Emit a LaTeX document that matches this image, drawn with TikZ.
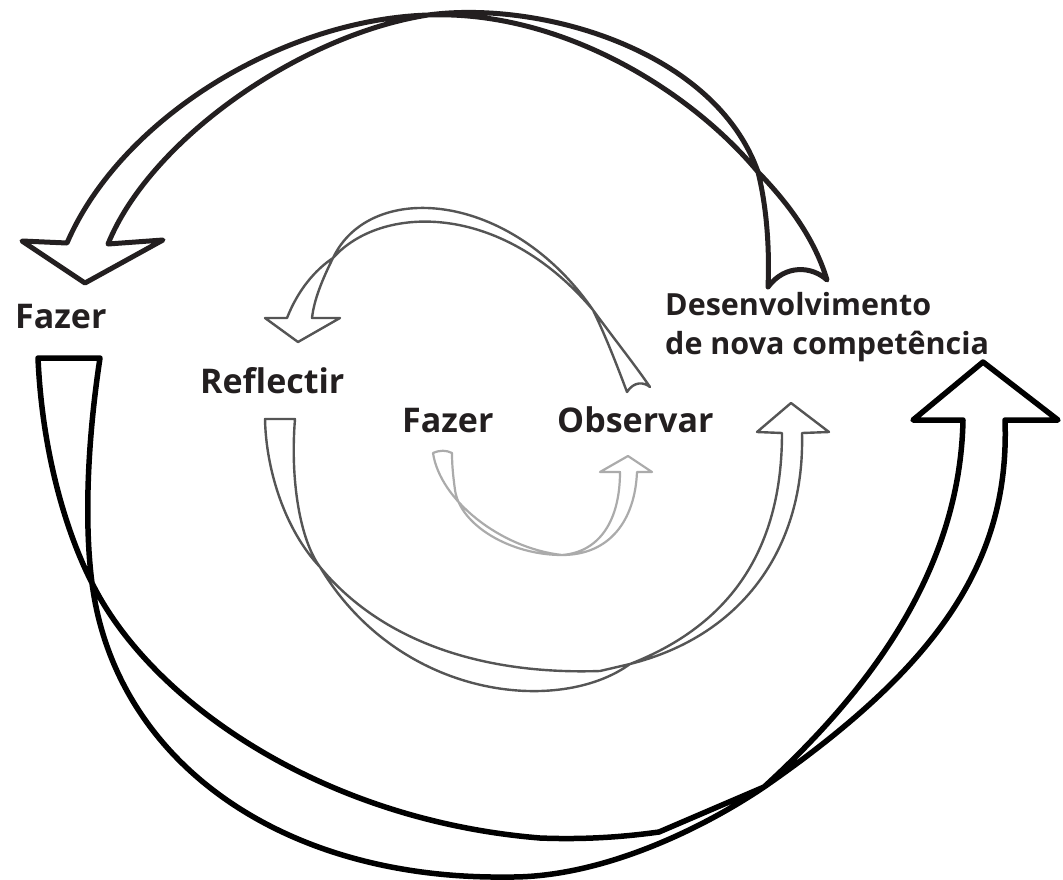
\documentclass[tikz,border=0pt]{standalone}
\usepackage{fontspec}
\setmainfont{Open Sans}
\definecolor{ink}{HTML}{231F20}
\definecolor{midgray}{HTML}{555555}
\definecolor{palegray}{HTML}{ABABAB}
\begin{document}
\begin{tikzpicture}[x=1pt,y=-1pt,
  ribbon/.style={line join=round, line cap=round},
  outerband/.style={ribbon, draw=black, line width=5.5pt},
  topband/.style={ribbon, draw=ink, line width=5pt},
  midband/.style={ribbon, draw=midgray, line width=2.4pt},
  innerband/.style={ribbon, draw=palegray, line width=2.2pt},
  biglabel/.style={inner sep=0pt, anchor=base west, text=ink,
    font=\bfseries\fontsize{34}{40}\selectfont},
  smalllabel/.style={inner sep=0pt, anchor=base west, text=ink,
    font=\bfseries\fontsize{30.5}{38}\selectfont}]
\useasboundingbox (0,0) rectangle (1063,879);

% large twisted band along the bottom, ending in the up arrow on the right
\coordinate (bL) at (92,583);   % left twist
\coordinate (bR) at (764,787);  % right twist
\draw[outerband]
  (38,358) .. controls (42,450) and (65,530) .. (bL)
  .. controls (150,700) and (320,820) .. (540,838)
  .. controls (590,840) and (630,836) .. (659,832)
  -- (bR)
  .. controls (940,665) and (1010,560) .. (1005,420)
  -- (1058,420) -- (983,362) -- (913,420) -- (963,420)
  .. controls (960,570) and (870,690) .. (bR)
  .. controls (700,830) and (600,878) .. (508,877)
  .. controls (280,880) and (115,760) .. (bL)
  .. controls (85,530) and (86,450) .. (100,358)
  -- cycle;

% large twisted band over the top, ending in the down arrow on the left
\coordinate (tR) at (758,172);  % right twist
\coordinate (tA) at (428,15);   % twist at the apex
\draw[topband]
  (768,287) .. controls (770,240) and (765,200) .. (tR)
  .. controls (715,50) and (540,0) .. (tA)
  .. controls (300,35) and (150,140) .. (108,244)
  -- (163,240) -- (85,283) -- (22,241) -- (67,243)
  .. controls (120,120) and (280,20) .. (tA)
  .. controls (560,10) and (690,90) .. (tR)
  .. controls (790,205) and (815,240) .. (827,280)
  .. controls (812,266) and (785,264) .. (768,287);

% middle band, upper arc ending in the arrow above Reflectir
\coordinate (mL) at (333,258);
\coordinate (mR) at (593,310);
\draw[midband]
  (287,318) .. controls (298,290) and (315,270) .. (mL)
  .. controls (380,205) and (500,200) .. (mR)
  .. controls (615,340) and (635,365) .. (650,387)
  .. controls (644,382) and (634,381) .. (627,392)
  .. controls (615,360) and (605,335) .. (mR)
  .. controls (510,190) and (370,180) .. (mL)
  .. controls (322,280) and (314,300) .. (312,318)
  -- (340,318) -- (298,342) -- (265,318) -- cycle;

% middle band, lower arc ending in the arrow right of Observar
\coordinate (nL) at (320,567);
\coordinate (nR) at (630,664);
\draw[midband]
  (265,419) .. controls (266,470) and (285,530) .. (nL)
  .. controls (380,640) and (480,675) .. (600,671)
  -- (nR)
  .. controls (745,635) and (805,545) .. (802,433)
  -- (829,432) -- (791,403) -- (757,432) -- (782,433)
  .. controls (782,550) and (730,625) .. (nR)
  .. controls (560,715) and (400,700) .. (nL)
  .. controls (300,540) and (290,480) .. (295,419)
  -- cycle;

% small inner band from Fazer to Observar
\coordinate (sB) at (562,555);
\draw[innerband]
  (452,453) .. controls (446,450) and (440,450) .. (433,453)
  .. controls (440,500) and (500,548) .. (sB)
  .. controls (610,555) and (635,520) .. (637,472)
  -- (652,472) -- (628,456) -- (600,472) -- (620,472)
  .. controls (620,520) and (600,552) .. (sB)
  .. controls (510,555) and (460,525) .. (455,490)
  .. controls (453,475) and (452,465) .. (452,453)
  -- cycle;

\node[biglabel] (fazerOuter) at (15,328) {Fazer};
\node[biglabel] (reflectir) at (200,393) {Reflectir};
\node[biglabel] (fazerInner) at (402,432) {Fazer};
\node[biglabel] (observar) at (557,432) {Observar};
\node[smalllabel] (desenvolvimento) at (665,315) {Desenvolvimento};
\node[smalllabel] (competencia) at (665,354) {de nova competência};
\end{tikzpicture}
\end{document}
